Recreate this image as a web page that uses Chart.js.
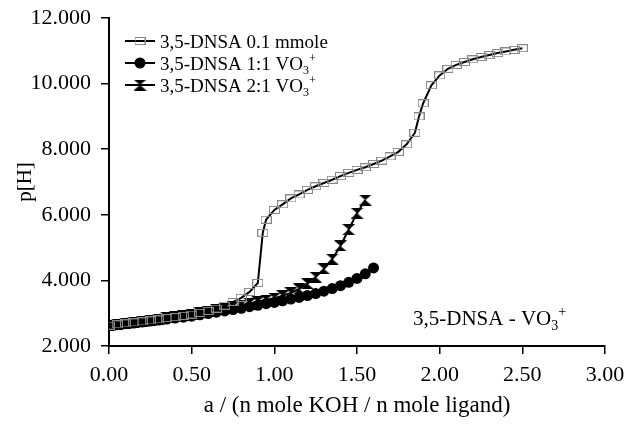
<!DOCTYPE html>
<html>
<head>
<meta charset="utf-8">
<script src="https://cdn.jsdelivr.net/npm/chart.js@4/dist/chart.umd.min.js"></script>
<style>
  body { margin: 0; background: #fff; }
  #wrap { width: 625px; height: 425px; }
</style>
</head>
<body>
<div id="wrap"><canvas id="myChart" width="625" height="425"></canvas></div>
<script>
// 3,5-DNSA 0.1 mmole
const ligandX = [0, 0.05, 0.1, 0.15, 0.2, 0.25, 0.3, 0.35, 0.4, 0.45, 0.5, 0.55, 0.6, 0.65, 0.7, 0.75, 0.8, 0.85, 0.9,
  0.93, 0.95, 1.0, 1.05, 1.1, 1.15, 1.2, 1.25, 1.3, 1.35, 1.4, 1.45, 1.5, 1.55, 1.6, 1.65, 1.7, 1.75, 1.8, 1.85,
  1.875, 1.9, 1.95, 2.0, 2.05, 2.1, 2.15, 2.2, 2.25, 2.3, 2.35, 2.4, 2.45, 2.5];
const ligandPH = [2.62, 2.66, 2.69, 2.72, 2.75, 2.78, 2.81, 2.85, 2.88, 2.92, 2.96, 3.01, 3.07, 3.14, 3.23, 3.34, 3.47, 3.65, 3.92,
  5.45, 5.85, 6.15, 6.32, 6.5, 6.62, 6.76, 6.87, 6.97, 7.07, 7.18, 7.28, 7.37, 7.45, 7.55, 7.65, 7.78, 7.92, 8.15, 8.5,
  9.0, 9.4, 9.95, 10.25, 10.45, 10.57, 10.66, 10.74, 10.81, 10.87, 10.93, 10.98, 11.03, 11.08];

// 3,5-DNSA 1:1 VO3+
const oneToOneX = [0, 0.05, 0.1, 0.15, 0.2, 0.25, 0.3, 0.35, 0.4, 0.45, 0.5, 0.55, 0.6, 0.65, 0.7, 0.75, 0.8,
  0.85, 0.9, 0.95, 1.0, 1.05, 1.1, 1.15, 1.2, 1.25, 1.3, 1.35, 1.4, 1.45, 1.5, 1.55, 1.6];
const oneToOnePH = [2.62, 2.65, 2.68, 2.7, 2.73, 2.76, 2.79, 2.82, 2.85, 2.88, 2.91, 2.95, 2.99, 3.03, 3.07, 3.11, 3.15,
  3.2, 3.24, 3.29, 3.33, 3.38, 3.43, 3.48, 3.54, 3.6, 3.67, 3.75, 3.84, 3.94, 4.06, 4.2, 4.38];

// 3,5-DNSA 2:1 VO3+
const twoToOneX = [0, 0.05, 0.1, 0.15, 0.2, 0.25, 0.3, 0.35, 0.4, 0.45, 0.5, 0.55, 0.6, 0.65, 0.7, 0.75,
  0.8, 0.85, 0.9, 0.95, 1.0, 1.05, 1.1, 1.15, 1.2, 1.25, 1.3, 1.35, 1.4, 1.45, 1.5, 1.55];
const twoToOnePH = [2.64, 2.67, 2.7, 2.73, 2.76, 2.79, 2.82, 2.86, 2.89, 2.93, 2.97, 3.01, 3.05, 3.1, 3.15, 3.2,
  3.25, 3.3, 3.35, 3.4, 3.46, 3.53, 3.62, 3.74, 3.9, 4.1, 4.35, 4.65, 5.05, 5.55, 6.05, 6.45];

const xTicks = [0, 0.5, 1, 1.5, 2, 2.5, 3];
const yTicks = [2, 4, 6, 8, 10, 12];

const legendLabels = [
  [{ t: "3,5-DNSA 0.1 mmole" }],
  [{ t: "3,5-DNSA 1:1 VO" }, { t: "3", sub: true }, { t: "+", sup: true }],
  [{ t: "3,5-DNSA 2:1 VO" }, { t: "3", sub: true }, { t: "+", sup: true }],
];
const noteLabel = [{ t: "3,5-DNSA - VO" }, { t: "3", sub: true }, { t: "+", sup: true }];
const xTitle = "a / (n mole KOH / n mole ligand)";
const yTitle = "p[H]";

const FONT = "'Liberation Serif', 'Times New Roman', serif";

const toPoints = function (xs, ys) {
  return xs.map((x, i) => ({ x: x, y: ys[i] }));
};

// hourglass marker for the 2:1 series
const hourglass = (function () {
  const c = document.createElement("canvas");
  c.width = 13;
  c.height = 11;
  const g = c.getContext("2d");
  g.fillStyle = "#000";
  g.beginPath();
  g.moveTo(0, 0);
  g.lineTo(13, 0);
  g.lineTo(6.5, 5.5);
  g.closePath();
  g.moveTo(0, 11);
  g.lineTo(13, 11);
  g.lineTo(6.5, 5.5);
  g.closePath();
  g.fill();
  return c;
})();

// open grey box for the ligand series
const openBox = (function () {
  const c = document.createElement("canvas");
  c.width = 11;
  c.height = 8;
  const g = c.getContext("2d");
  g.strokeStyle = "#888";
  g.lineWidth = 1;
  g.strokeRect(0.5, 0.5, 10, 7);
  return c;
})();

const drawRich = function (ctx, parts, x, y, size) {
  let cx = x;
  const small = Math.round(size * 0.65);
  parts.forEach((p) => {
    let dy = 0;
    if (p.sub) {
      ctx.font = small + "px " + FONT;
      dy = size * 0.22;
    } else if (p.sup) {
      ctx.font = small + "px " + FONT;
      dy = -size * 0.42;
    } else {
      ctx.font = size + "px " + FONT;
    }
    ctx.fillText(p.t, cx, y + dy);
    cx += ctx.measureText(p.t).width;
  });
};

const drawMarker = function (ctx, kind, x, y) {
  ctx.save();
  if (kind == 0) {
    ctx.drawImage(openBox, x - 5.5, y - 4);
  } else if (kind == 1) {
    ctx.fillStyle = "#000";
    ctx.beginPath();
    ctx.arc(x, y, 5.5, 0, Math.PI * 2);
    ctx.fill();
  } else {
    ctx.drawImage(hourglass, x - 6.5, y - 5.5);
  }
  ctx.restore();
};

const textPlugin = {
  id: "textPlugin",
  afterDraw(chart) {
    const ctx = chart.ctx;
    ctx.save();
    ctx.fillStyle = "#000";
    ctx.textBaseline = "alphabetic";
    ctx.textAlign = "left";
    const rows = [48, 70, 92];
    legendLabels.forEach((parts, i) => {
      const ly = rows[i] - 7;
      ctx.strokeStyle = "#000";
      ctx.lineWidth = 2;
      ctx.beginPath();
      ctx.moveTo(125, ly);
      ctx.lineTo(155, ly);
      ctx.stroke();
      drawMarker(ctx, i, 140, ly);
      drawRich(ctx, parts, 160, rows[i], 19);
    });
    drawRich(ctx, noteLabel, 413, 325, 21);
    ctx.restore();
  },
};

const config = {
  type: "scatter",
  data: {
    datasets: [
      {
        label: "3,5-DNSA 0.1 mmole",
        data: toPoints(ligandX, ligandPH),
        showLine: true,
        borderColor: "#000",
        borderWidth: 2,
        pointStyle: openBox,
        pointRadius: 5,
      },
      {
        label: "3,5-DNSA 1:1 VO3+",
        data: toPoints(oneToOneX, oneToOnePH),
        showLine: true,
        borderColor: "#000",
        borderWidth: 2,
        pointStyle: "circle",
        pointRadius: 5.5,
        pointBorderWidth: 0,
        pointBackgroundColor: "#000",
      },
      {
        label: "3,5-DNSA 2:1 VO3+",
        data: toPoints(twoToOneX, twoToOnePH),
        showLine: true,
        borderColor: "#000",
        borderWidth: 2,
        pointStyle: hourglass,
        pointRadius: 6,
        pointBackgroundColor: "#000",
      },
    ],
  },
  options: {
    responsive: false,
    animation: false,
    devicePixelRatio: 1,
    layout: { padding: { top: 18, right: 20, left: 0, bottom: 0 } },
    plugins: {
      legend: { display: false },
      tooltip: { enabled: false },
    },
    scales: {
      x: {
        type: "linear",
        min: 0,
        max: 3,
        afterBuildTicks: (scale) => {
          scale.ticks = xTicks.map((v) => ({ value: v }));
        },
        afterFit: (scale) => {
          scale.height = 79;
          scale.paddingLeft = 0;
          scale.paddingRight = 0;
        },
        ticks: {
          color: "#000",
          font: { family: FONT, size: 22 },
          padding: 8,
          maxRotation: 0,
          callback: (v) => v.toFixed(2),
        },
        grid: { drawOnChartArea: false, drawTicks: true, tickLength: 8, color: "#000", lineWidth: 1.5 },
        border: { display: true, color: "#000", width: 2 },
        title: {
          display: true,
          text: xTitle,
          color: "#000",
          font: { family: FONT, size: 23 },
          padding: { top: 0, bottom: 5 },
        },
      },
      y: {
        type: "linear",
        min: 2,
        max: 12,
        afterBuildTicks: (scale) => {
          scale.ticks = yTicks.map((v) => ({ value: v }));
        },
        afterFit: (scale) => {
          scale.width = 109;
          scale.paddingTop = 0;
          scale.paddingBottom = 0;
        },
        ticks: {
          color: "#000",
          font: { family: FONT, size: 22 },
          padding: 10,
          callback: (v) => v.toFixed(3),
        },
        grid: { drawOnChartArea: false, drawTicks: true, tickLength: 8, color: "#000", lineWidth: 1.5 },
        border: { display: true, color: "#000", width: 2 },
        title: {
          display: true,
          text: yTitle,
          color: "#000",
          font: { family: FONT, size: 21 },
          padding: { top: 13, bottom: 0 },
        },
      },
    },
  },
  plugins: [textPlugin],
};

const chart = new Chart(document.getElementById("myChart"), config);
</script>
</body>
</html>
